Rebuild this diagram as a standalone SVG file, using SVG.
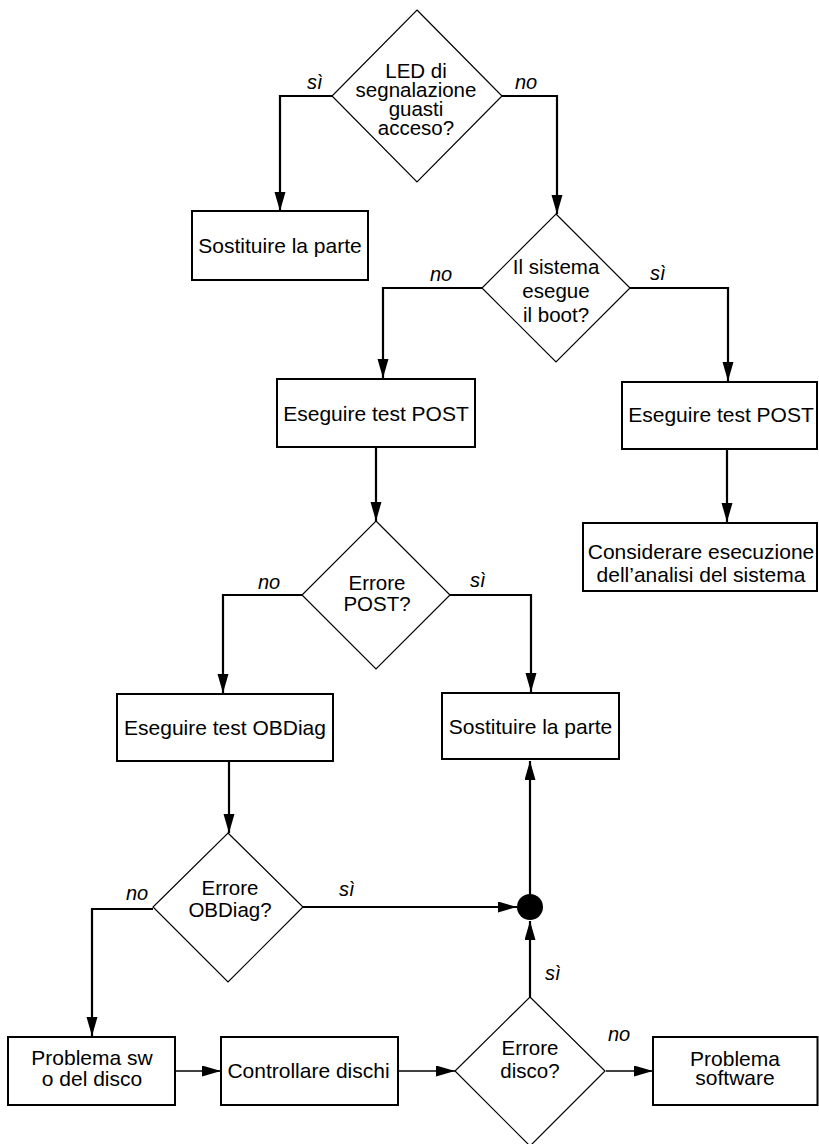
<svg xmlns="http://www.w3.org/2000/svg" width="819" height="1144" viewBox="0 0 819 1144">
<style>
.box{fill:#fff;stroke:#000;stroke-width:2}
.dia{fill:#fff;stroke:#000;stroke-width:1.2}
.t{font-family:"Liberation Sans",Arial,Helvetica,sans-serif;font-size:21px;fill:#000;text-anchor:middle}
.td{font-family:"Liberation Sans",Arial,Helvetica,sans-serif;font-size:20.5px;fill:#000;text-anchor:middle}
.lb{font-family:"Liberation Sans",Arial,Helvetica,sans-serif;font-size:20px;font-style:italic;fill:#000}
.c{fill:none;stroke:#000;stroke-width:2.2;marker-end:url(#ah)}
.cn{fill:none;stroke:#000;stroke-width:1.4;marker-end:url(#ah)}
</style>
<defs>
<marker id="ah" markerUnits="userSpaceOnUse" markerWidth="20" markerHeight="12" refX="19" refY="5.5" orient="auto">
<path d="M0,0 L19,5.5 L0,11 z" fill="#000"/>
</marker>
</defs>
<g id="connectors">
<path class="c" d="M332,96 H280 V211"/>
<path class="c" d="M502,96 H557 V214"/>
<path class="c" d="M482,288 H383 V378"/>
<path class="c" d="M630,288 H728 V381"/>
<path class="c" d="M376,447 V521"/>
<path class="c" d="M727,449 V522"/>
<path class="c" d="M302,595 H223 V693"/>
<path class="c" d="M450,595 H531 V692"/>
<path class="c" d="M229,761 V833"/>
<path class="c" d="M153,909 H92 V1036"/>
<path class="c" d="M303,907 H517"/>
<path class="c" d="M530,894 V761"/>
<path class="c" d="M530,997 V921"/>
<path class="cn" d="M175,1071 H221"/>
<path class="cn" d="M398,1071 H455"/>
<path class="cn" d="M606,1071 H653"/>
</g>
<g id="labels">
<text class="lb" x="307" y="89">sì</text>
<text class="lb" x="515" y="89">no</text>
<text class="lb" x="430" y="281">no</text>
<text class="lb" x="650" y="280">sì</text>
<text class="lb" x="258" y="589">no</text>
<text class="lb" x="470" y="587">sì</text>
<text class="lb" x="126" y="900">no</text>
<text class="lb" x="339" y="896">sì</text>
<text class="lb" x="545" y="980">sì</text>
<text class="lb" x="608" y="1041">no</text>
</g>
<g id="d1">
<polygon class="dia" points="417,10 502,96 417,182 332,96"/>
<text class="td" x="416" y="78">LED di</text>
<text class="td" x="416" y="97">segnalazione</text>
<text class="td" x="416" y="116">guasti</text>
<text class="td" x="416" y="135">acceso?</text>
</g>
<g id="b1">
<rect class="box" x="192" y="211" width="176" height="69"/>
<text class="t" x="280" y="253">Sostituire la parte</text>
</g>
<g id="d2">
<polygon class="dia" points="556,214 630,288 556,362 482,288"/>
<text class="td" x="556" y="274">Il sistema</text>
<text class="td" x="556" y="298">esegue</text>
<text class="td" x="556" y="322">il boot?</text>
</g>
<g id="b2">
<rect class="box" x="277" y="379" width="198" height="68"/>
<text class="t" x="376" y="421">Eseguire test POST</text>
</g>
<g id="b3">
<rect class="box" x="622" y="382" width="195" height="67"/>
<text class="t" x="721" y="422">Eseguire test POST</text>
</g>
<g id="b4">
<rect class="box" x="583" y="523" width="234" height="68"/>
<text class="t" x="701" y="559">Considerare esecuzione</text>
<text class="t" x="701" y="581.5">dell’analisi del sistema</text>
</g>
<g id="d3">
<polygon class="dia" points="376,521 450,595 376,669 302,595"/>
<text class="td" x="377" y="590">Errore</text>
<text class="td" x="377" y="610.5">POST?</text>
</g>
<g id="b5">
<rect class="box" x="117" y="694" width="216" height="67"/>
<text class="t" x="225" y="735">Eseguire test OBDiag</text>
</g>
<g id="b6">
<rect class="box" x="442" y="693" width="177" height="66"/>
<text class="t" x="530.5" y="733.5">Sostituire la parte</text>
</g>
<g id="d4">
<polygon class="dia" points="228,833 303,907 228,982 153,907"/>
<text class="td" x="230" y="895">Errore</text>
<text class="td" x="230" y="916.5">OBDiag?</text>
</g>
<g id="junction">
<circle cx="530" cy="907" r="13" fill="#000"/>
</g>
<g id="b7">
<rect class="box" x="8" y="1037" width="167" height="68"/>
<text class="t" x="92" y="1065">Problema sw</text>
<text class="t" x="92" y="1086">o del disco</text>
</g>
<g id="b8">
<rect class="box" x="221" y="1037" width="177" height="68"/>
<text class="t" x="308.5" y="1078">Controllare dischi</text>
</g>
<g id="d5">
<polygon class="dia" points="530,997 605,1071 530,1146 455,1071"/>
<text class="td" x="530" y="1055">Errore</text>
<text class="td" x="530" y="1078">disco?</text>
</g>
<g id="b9">
<rect class="box" x="653" y="1037" width="164.5" height="68"/>
<text class="t" x="735" y="1066">Problema</text>
<text class="t" x="735" y="1085">software</text>
</g>
</svg>
